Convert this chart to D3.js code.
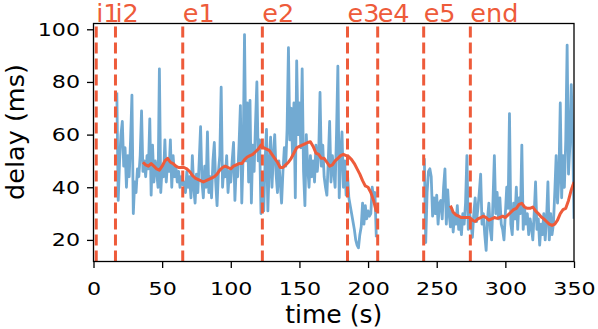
<!DOCTYPE html>
<html>
<head>
<meta charset="utf-8">
<script src="https://cdn.jsdelivr.net/npm/d3@7/dist/d3.min.js"></script>
<style>
  body { margin: 0; background: #fff; }
  svg { display: block; font-family: "DejaVu Sans", sans-serif; }
</style>
</head>
<body>
<div class="canvas"></div>
<script>
// event markers (dashed lines + labels)
var eventNames = ["i1", "i2", "e1", "e2", "e3", "e4", "e5", "end"]
var eventTimes = [2, 16, 65, 123, 185, 207, 240.5, 274.5]

// raw delay, one sample per second, two segments
var segAStart = 17
var segADelay = [
  76,35,50,60,65,48,55,40,52,44,
  58,75,30,42,38,47,44,52,69,46,
  50,44,52,47,66,37,56,42,50,46,
  40,85,38,48,44,58,42,50,46,58,
  40,52,44,48,42,46,40,44,41,42,
  38,46,40,44,36,52,40,34,45,38,
  50,63,42,36,48,40,61,38,44,36,
  50,57,42,33,46,52,78,40,48,44,
  52,38,46,42,50,57,35,48,44,56,
  71,34,52,98,50,72,42,73,34,56,
  46,64,80,50,58,30,45,31,50,62,
  31,48,59,40,52,60,45,38,50,42,
  34,46,55,48,62,93,58,70,52,72,
  36,88,60,72,55,85,46,33,60,48,
  40,52,44,50,42,56,46,52,76,48,
  56,44,40,37,50,65,42,52,46,40,
  60,86,36,52,61,40,50,37,45,36,
  33,30,27,24,20,18,17,22,25,34,
  26,33,28,31,29,30,40,36,38,21
]
var segBStart = 241
var segBDelay = [
  51,19,38,46,47,44,29,36,30,37,
  26,34,35,28,40,47,26,39,30,25,
  32,23,30,26,33,24,28,22,30,26,
  34,52,24,30,26,21,30,36,27,32,
  38,45,26,30,22,16,28,34,24,20,
  35,52,30,38,28,36,26,24,20,30,
  40,32,68,26,22,34,28,40,24,36,
  30,56,24,32,26,30,22,28,25,20,
  30,42,24,28,18,26,22,30,20,28,
  42,20,30,22,26,38,52,34,44,72,
  36,52,40,58,94,45,56,79,60,28
]

// smoothed delay, every 2 seconds
var meanAStart = 36
var meanADelay = [
  49.5,48.5,48,49,48,47,46.5,48,50,51,
  49.5,49,48,47.5,47.5,47.5,47,46,44.5,43.5,
  43,42.5,42,42.5,43,43.5,44,45,46.5,47.5,
  48,47.5,47,48,48.5,49,49,50.5,51.5,52,
  52.5,53.5,54.5,56,55,54.5,54,52.5,51,49.5,
  47.5,47.5,48.5,49.5,51,53,55,55.5,56,56.5,
  57,57.3,55.5,53,52.5,51,51,49.5,48,48.5,
  50,51,52,52.5,52,51.6,50.5,49,47,45,
  42.5,40.5,40,38,35,30.7
]
var meanBStart = 260
var meanBDelay = [
  33,30.5,29.5,29,28.5,28.5,28.5,28.5,27.5,27,
  28,28.5,29,28.5,27.5,28,28.5,28.2,28.5,29,
  28.5,29.5,30.5,31.5,32,33.5,33.9,32.5,32,32,
  32.5,31,30,28.8,28,27,26,25.5,26,27.5,
  30,31.5,32,35,39,42
]

var xTicks = [0, 50, 100, 150, 200, 250, 300, 350]
var yTicks = [20, 40, 60, 80, 100]

var svgW = 598, svgH = 329
var plotL = 93.5, plotR = 574, plotT = 23.5, plotB = 261.5

var blue = "#72aad2"
var red = "#ee5b3a"
var tickStretch = 1.2

var x = d3.scaleLinear().domain([0, 350]).range([plotL, plotR])
var y = d3.scaleLinear().domain([11.8, 102.2]).range([plotB, plotT])

function toPoints(start, step, values) {
  return values.map(function (v, i) { return [start + i * step, v] })
}

var svg = d3.select(".canvas")
  .append("svg")
  .attr("width", svgW)
  .attr("height", svgH)

svg.append("clipPath")
  .attr("id", "plotclip")
  .append("rect")
  .attr("x", plotL).attr("y", plotT)
  .attr("width", plotR - plotL).attr("height", plotB - plotT)

var line = d3.line()
  .x(function (d) { return x(d[0]) })
  .y(function (d) { return y(d[1]) })

var plot = svg.append("g").attr("clip-path", "url(#plotclip)")

// raw series
;[toPoints(segAStart, 1, segADelay), toPoints(segBStart, 1, segBDelay)].forEach(function (pts) {
  plot.append("path")
    .datum(pts)
    .attr("d", line)
    .attr("fill", "none")
    .attr("stroke", blue)
    .attr("stroke-width", 2.8)
    .attr("stroke-linejoin", "round")
})

// rolling mean
;[toPoints(meanAStart, 2, meanADelay), toPoints(meanBStart, 2, meanBDelay)].forEach(function (pts) {
  plot.append("path")
    .datum(pts)
    .attr("d", line)
    .attr("fill", "none")
    .attr("stroke", red)
    .attr("stroke-width", 3)
    .attr("stroke-linejoin", "round")
})

// event lines, dash pattern starts at the bottom like axvline
plot.selectAll("line.ev")
  .data(eventTimes)
  .enter()
  .append("line")
  .attr("class", "ev")
  .attr("x1", function (d) { return x(d) })
  .attr("x2", function (d) { return x(d) })
  .attr("y1", plotB)
  .attr("y2", plotT)
  .attr("stroke", red)
  .attr("stroke-width", 3)
  .attr("stroke-dasharray", "11,5")

svg.selectAll("text.ev")
  .data(eventNames)
  .enter()
  .append("text")
  .attr("class", "ev")
  .attr("x", function (d, i) { return x(eventTimes[i]) })
  .attr("y", 22)
  .attr("fill", red)
  .style("font-size", "25.5px")
  .text(function (d) { return d })

// axes
var xAxis = svg.append("g")
  .attr("transform", "translate(0," + plotB + ")")
  .call(d3.axisBottom(x).tickValues(xTicks).tickSize(6.5).tickSizeOuter(0))
var yAxis = svg.append("g")
  .attr("transform", "translate(" + plotL + ",0)")
  .call(d3.axisLeft(y).tickValues(yTicks).tickSize(6.5).tickSizeOuter(0))

xAxis.select(".domain").remove()
yAxis.select(".domain").remove()
svg.selectAll(".tick line").attr("stroke", "#000").attr("stroke-width", 1.3)
svg.selectAll(".tick text")
  .attr("fill", "#000")
  .style("font-size", "18.5px")
  .style("font-family", "DejaVu Sans")

// tick labels in the original are a bit wider than DejaVu, stretch them
xAxis.selectAll(".tick text")
  .attr("y", 33.5)
  .attr("dy", 0)
  .attr("transform", "scale(" + tickStretch + ",1)")
yAxis.selectAll(".tick text")
  .attr("x", -13.4 / tickStretch)
  .attr("transform", "scale(" + tickStretch + ",1)")

// frame
svg.append("rect")
  .attr("x", plotL).attr("y", plotT)
  .attr("width", plotR - plotL).attr("height", plotB - plotT)
  .attr("fill", "none")
  .attr("stroke", "#000")
  .attr("stroke-width", 1.3)

svg.append("text")
  .attr("x", (plotL + plotR) / 2)
  .attr("y", 323)
  .attr("text-anchor", "middle")
  .style("font-size", "25px")
  .text("time (s)")

svg.append("text")
  .attr("transform", "translate(24,132) rotate(-90)")
  .attr("text-anchor", "middle")
  .style("font-size", "25.5px")
  .text("delay (ms)")
</script>
</body>
</html>
